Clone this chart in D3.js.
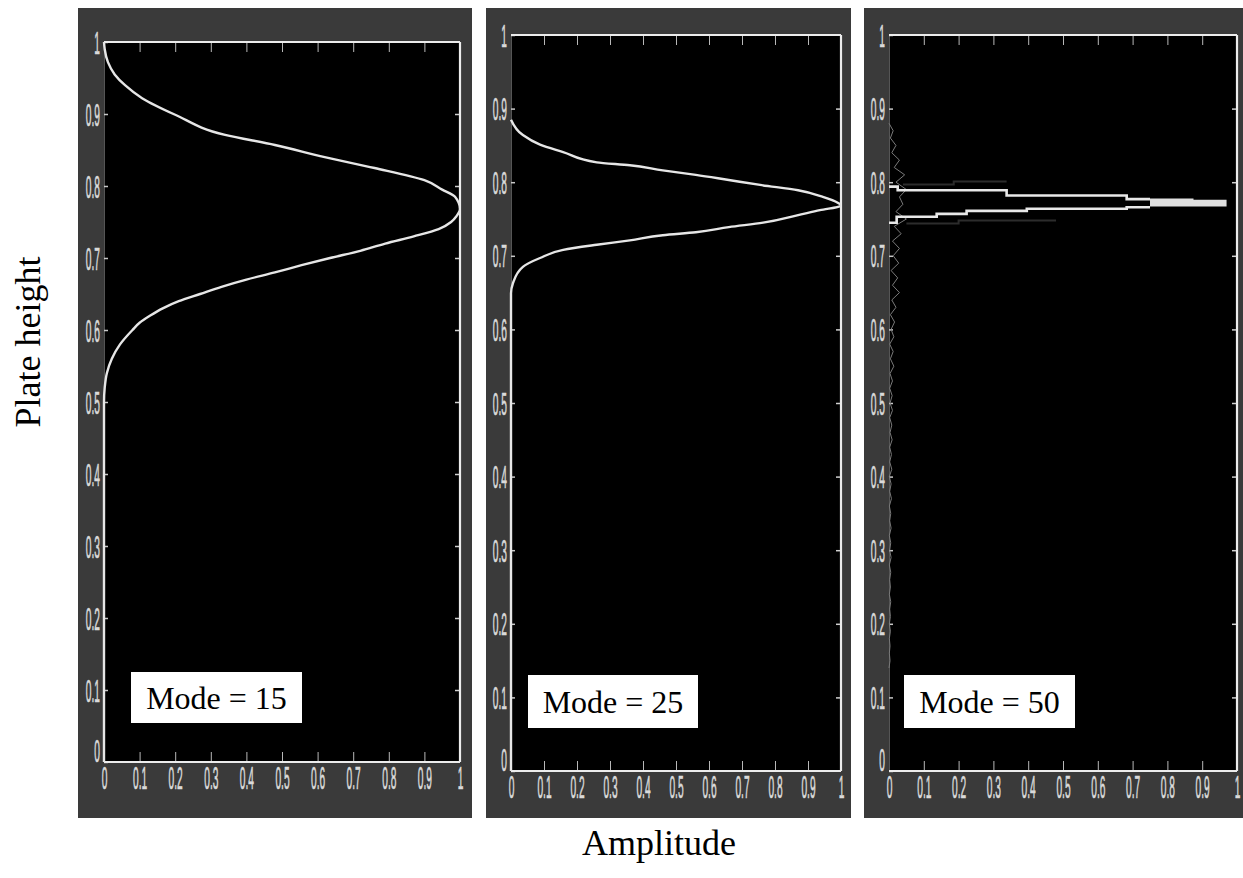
<!DOCTYPE html>
<html>
<head>
<meta charset="utf-8">
<script src="https://cdn.jsdelivr.net/npm/d3@7/dist/d3.min.js"></script>
<style>
  html, body { margin: 0; padding: 0; background: #ffffff; }
  svg { display: block; }
</style>
</head>
<body>
<svg id="chart" width="1243" height="878"></svg>
<script>
// ---- data ----------------------------------------------------------------
const tickValues = [0, 0.1, 0.2, 0.3, 0.4, 0.5, 0.6, 0.7, 0.8, 0.9, 1];
const tickLabels = ["0", "0.1", "0.2", "0.3", "0.4", "0.5", "0.6", "0.7", "0.8", "0.9", "1"];
const modeLabels = ["Mode = 15", "Mode = 25", "Mode = 50"];

// Mode 15: amplitude profile along the plate height (top to bottom)
const mode15Height = [1.0, 0.99, 0.972, 0.955, 0.94, 0.922, 0.899, 0.871, 0.857, 0.84, 0.825, 0.808, 0.795, 0.785, 0.768,
  0.758, 0.75, 0.74, 0.73, 0.72, 0.71, 0.70, 0.69, 0.68, 0.67, 0.66, 0.65, 0.64, 0.63, 0.62, 0.61, 0.60, 0.58, 0.56, 0.54, 0.52, 0.50, 0.0];
const mode15Amp = [0.0, 0.002, 0.011, 0.03, 0.059, 0.107, 0.2, 0.34, 0.48, 0.62, 0.76, 0.90, 0.95, 0.986, 1.0,
  0.99, 0.975, 0.94, 0.87, 0.79, 0.72, 0.635, 0.555, 0.48, 0.40, 0.33, 0.27, 0.21, 0.165, 0.13, 0.10, 0.08, 0.045, 0.022, 0.008, 0.002, 0.0, 0.0];

// Mode 25
const mode25Height = [0.885, 0.864, 0.851, 0.841, 0.827, 0.823, 0.816, 0.81, 0.803, 0.796, 0.789, 0.78, 0.772, 0.768,
  0.762, 0.755, 0.745, 0.739, 0.732, 0.728, 0.721, 0.715, 0.708, 0.697, 0.685, 0.663, 0.649, 0.0];
const mode25Amp = [0.0, 0.036, 0.088, 0.158, 0.26, 0.36, 0.46, 0.56, 0.66, 0.76, 0.87, 0.945, 0.99, 1.0,
  0.936, 0.867, 0.764, 0.66, 0.56, 0.46, 0.36, 0.26, 0.158, 0.088, 0.036, 0.006, 0.0, 0.0];

// Mode 50: stepped upper and lower flanks, peak band, and low-level noise
const mode50UpperAmp = [0.0, 0.025, 0.338, 0.683, 0.75];
const mode50UpperHeight = [0.794, 0.789, 0.782, 0.777, 0.777];
const mode50LowerAmp = [0.0, 0.022, 0.137, 0.223, 0.396, 0.683, 0.75];
const mode50LowerHeight = [0.745, 0.753, 0.757, 0.761, 0.764, 0.766, 0.766];
const mode50PeakAmp = [0.75, 0.875, 0.97];
const mode50PeakTop = [0.778, 0.776, 0.776];
const mode50PeakBottom = [0.767, 0.767, 0.767];
const mode50ShadowUpperAmp = [0.04, 0.186, 0.338];
const mode50ShadowUpperHeight = [0.797, 0.801, 0.801];
const mode50ShadowLowerAmp = [0.05, 0.2, 0.48];
const mode50ShadowLowerHeight = [0.744, 0.748, 0.748];
const mode50NoiseHeight = [0.88, 0.87, 0.86, 0.85, 0.84, 0.83, 0.82, 0.81, 0.80, 0.79, 0.78, 0.77, 0.76, 0.75, 0.74, 0.73, 0.72, 0.71, 0.70,
  0.69, 0.68, 0.67, 0.66, 0.65, 0.64, 0.63, 0.62, 0.61, 0.60, 0.59, 0.58, 0.57, 0.56, 0.55, 0.54, 0.53, 0.52, 0.51, 0.50,
  0.49, 0.48, 0.47, 0.46, 0.45, 0.44, 0.43, 0.42, 0.41, 0.40, 0.39, 0.38, 0.37, 0.36, 0.35, 0.34, 0.33, 0.32, 0.31, 0.30,
  0.29, 0.28, 0.27, 0.26, 0.25, 0.24, 0.23, 0.22, 0.21, 0.20, 0.19, 0.18, 0.17, 0.16, 0.15, 0.14];
const mode50NoiseAmp = [0.0, 0.012, 0.004, 0.02, 0.008, 0.03, 0.015, 0.045, 0.02, 0.05, 0.03, 0.04, 0.02, 0.05, 0.015, 0.035, 0.01, 0.03, 0.012,
  0.028, 0.006, 0.025, 0.01, 0.03, 0.008, 0.02, 0.004, 0.016, 0.006, 0.014, 0.002, 0.012, 0.004, 0.014, 0.003, 0.01, 0.002, 0.009, 0.003,
  0.01, 0.002, 0.008, 0.003, 0.009, 0.002, 0.007, 0.002, 0.008, 0.001, 0.006, 0.002, 0.007, 0.001, 0.005, 0.002, 0.006, 0.001, 0.005, 0.002,
  0.006, 0.001, 0.005, 0.002, 0.004, 0.001, 0.005, 0.002, 0.004, 0.001, 0.004, 0.001, 0.003, 0.001, 0.003, 0.0];

// ---- layout ---------------------------------------------------------------
const panels = [
  { frame: [78, 8, 472, 818], plot: [104, 42, 460, 762], box: [131, 672, 171, 51] },
  { frame: [486, 8, 851, 818], plot: [511, 35, 841, 771], box: [528, 675, 170, 53] },
  { frame: [864, 8, 1243, 818], plot: [889, 35, 1237, 771], box: [904, 675, 171, 53] }
];

const svg = d3.select("#chart");
const zip = (a, b) => a.map((v, i) => [v, b[i]]);

function labelText(sel) {
  sel.attr("fill", "#dadada")
    .attr("stroke", "#dadada").attr("stroke-width", 0.35)
    .attr("font-family", "Liberation Sans, Arial, sans-serif")
    .attr("font-size", 15);
}

panels.forEach((p, i) => {
  const [fx0, fy0, fx1, fy1] = p.frame;
  const [px0, py0, px1, py1] = p.plot;
  const g = svg.append("g");

  g.append("rect").attr("x", fx0).attr("y", fy0).attr("width", fx1 - fx0).attr("height", fy1 - fy0)
    .attr("fill", "#3a3a3a");
  g.append("rect").attr("x", px0).attr("y", py0).attr("width", px1 - px0).attr("height", py1 - py0)
    .attr("fill", "#000000");

  const x = d3.scaleLinear().domain([0, 1]).range([px0, px1]);
  const y = d3.scaleLinear().domain([0, 1]).range([py1, py0]);

  // inward tick marks on all four sides
  g.append("g").attr("transform", `translate(0,${py1})`)
    .call(d3.axisBottom(x).tickValues(tickValues.slice(1, -1)).tickSizeInner(-10).tickSizeOuter(0).tickFormat(""))
    .call(a => a.select(".domain").remove())
    .call(a => a.selectAll("line").attr("stroke", "#b8b8b8").attr("stroke-width", 1));
  g.append("g").attr("transform", `translate(0,${py0})`)
    .call(d3.axisTop(x).tickValues(tickValues.slice(1, -1)).tickSizeInner(-10).tickSizeOuter(0).tickFormat(""))
    .call(a => a.select(".domain").remove())
    .call(a => a.selectAll("line").attr("stroke", "#b8b8b8").attr("stroke-width", 1));
  g.append("g").attr("transform", `translate(${px1},0)`)
    .call(d3.axisRight(y).tickValues(tickValues.slice(1, -1)).tickSizeInner(-5).tickSizeOuter(0).tickFormat(""))
    .call(a => a.select(".domain").remove())
    .call(a => a.selectAll("line").attr("stroke", "#d0d0d0").attr("stroke-width", 1.5));

  // left axis with labels
  g.append("g").attr("transform", `translate(${px0},0)`)
    .call(d3.axisLeft(y).tickValues(tickValues).tickSizeInner(-4).tickSizeOuter(0)
      .tickFormat((d, k) => tickLabels[k]))
    .call(a => a.select(".domain").attr("stroke", "#555555").attr("stroke-width", 1))
    .call(a => a.selectAll("line").attr("stroke", "#c8c8c8").attr("stroke-width", 1.5))
    .call(a => a.selectAll("text")
      .call(labelText)
      .attr("x", 0).attr("dy", "0.36em")
      .attr("text-anchor", "end")
      .attr("transform", d => `translate(-4,${d === 0 ? -12 : 0}) scale(0.68,2.05)`));

  // bottom axis with labels
  g.append("g").attr("transform", `translate(0,${py1})`)
    .call(d3.axisBottom(x).tickValues(tickValues).tickSize(0)
      .tickFormat((d, k) => tickLabels[k]))
    .call(a => a.select(".domain").remove())
    .call(a => a.selectAll("text")
      .call(labelText)
      .attr("y", 0).attr("dy", "0.72em")
      .attr("transform", "translate(0,5) scale(0.68,2.05)"));

  // frame lines: top, bottom and right edges
  const edge = [[0, 1, 1, 1], [0, 0, 1, 0], [1, 0, 1, 1]];
  g.selectAll("line.edge").data(edge).join("line").attr("class", "edge")
    .attr("x1", d => x(d[0])).attr("y1", d => y(d[1]))
    .attr("x2", d => x(d[2])).attr("y2", d => y(d[3]))
    .attr("stroke", "#ececec").attr("stroke-width", 2.2);

  const plotLayer = g.append("g");
  const clipId = `clip${i}`;
  g.append("clipPath").attr("id", clipId).append("rect")
    .attr("x", px0 - 2).attr("y", py0).attr("width", px1 - px0 + 2).attr("height", py1 - py0);
  plotLayer.attr("clip-path", `url(#${clipId})`);

  if (i === 0 || i === 1) {
    const hs = i === 0 ? mode15Height : mode25Height;
    const as = i === 0 ? mode15Amp : mode25Amp;
    const line = d3.line().x(d => x(d[1])).y(d => y(d[0])).curve(d3.curveMonotoneY);
    plotLayer.append("path").datum(zip(hs, as)).attr("d", line)
      .attr("fill", "none").attr("stroke", "#e6e6e6").attr("stroke-width", 2.4);
  } else {
    const noise = d3.line().x(d => x(d[1])).y(d => y(d[0]));
    plotLayer.append("path").datum(zip(mode50NoiseHeight, mode50NoiseAmp)).attr("d", noise)
      .attr("fill", "none").attr("stroke", "#7a7a7a").attr("stroke-width", 1);

    const step = d3.line().x(d => x(d[0])).y(d => y(d[1])).curve(d3.curveStepAfter);
    [[mode50ShadowUpperAmp, mode50ShadowUpperHeight], [mode50ShadowLowerAmp, mode50ShadowLowerHeight]].forEach(([a, h]) => {
      plotLayer.append("path").datum(zip(a, h)).attr("d", step)
        .attr("fill", "none").attr("stroke", "#2c2c2c").attr("stroke-width", 2);
    });
    [[mode50UpperAmp, mode50UpperHeight], [mode50LowerAmp, mode50LowerHeight]].forEach(([a, h]) => {
      plotLayer.append("path").datum(zip(a, h)).attr("d", step)
        .attr("fill", "none").attr("stroke", "#e8e8e8").attr("stroke-width", 2.6);
    });
    const band = d3.area().x(d => x(d[0])).y0(d => y(d[2])).y1(d => y(d[1])).curve(d3.curveStepAfter);
    plotLayer.append("path")
      .datum(mode50PeakAmp.map((a, k) => [a, mode50PeakTop[k], mode50PeakBottom[k]]))
      .attr("d", band).attr("fill", "#e0e0e0");
  }

  // mode label box
  const [bx, by, bw, bh] = p.box;
  g.append("rect").attr("x", bx).attr("y", by).attr("width", bw).attr("height", bh).attr("fill", "#ffffff");
  g.append("text").attr("x", bx + bw / 2).attr("y", by + bh / 2 + 11)
    .attr("text-anchor", "middle")
    .attr("font-family", "Liberation Serif, Times New Roman, serif")
    .attr("font-size", 32).attr("fill", "#000000")
    .text(modeLabels[i]);
});

// shared axis titles
svg.append("text")
  .attr("transform", "translate(40,342) rotate(-90)")
  .attr("text-anchor", "middle")
  .attr("font-family", "Liberation Serif, Times New Roman, serif")
  .attr("font-size", 36).attr("fill", "#000000")
  .text("Plate height");
svg.append("text")
  .attr("x", 659).attr("y", 855)
  .attr("text-anchor", "middle")
  .attr("font-family", "Liberation Serif, Times New Roman, serif")
  .attr("font-size", 36).attr("fill", "#000000")
  .text("Amplitude");
</script>
</body>
</html>
